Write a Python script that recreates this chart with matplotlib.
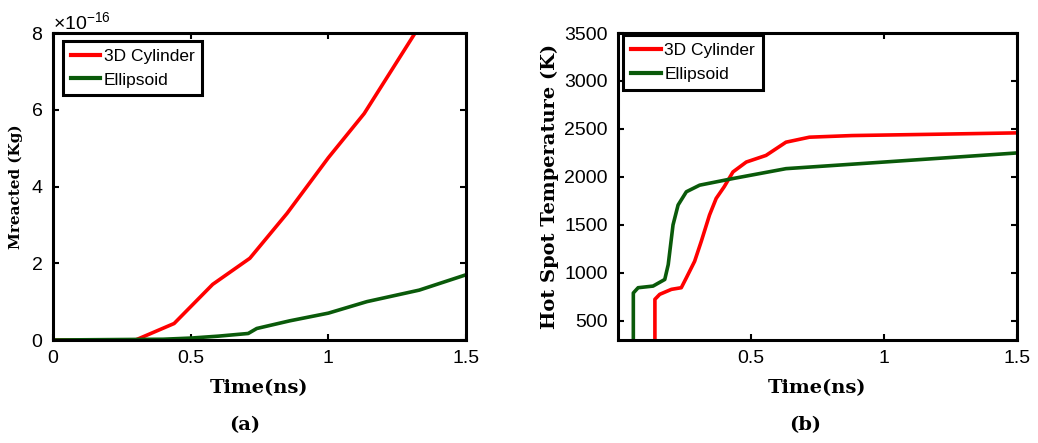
import matplotlib
matplotlib.use("Agg")
import matplotlib.pyplot as plt
from matplotlib.ticker import ScalarFormatter

plt.rcParams['font.family'] = ['Liberation Sans', 'DejaVu Sans']
plt.rcParams['mathtext.fontset'] = 'custom'
plt.rcParams['mathtext.rm'] = 'Liberation Sans'

# (a) Mreacted
cyl_t_a = [0.0, 0.30, 0.44, 0.58, 0.715, 0.85, 1.0, 1.13, 1.315]
cyl_m_a = [0.0, 0.0, 0.43, 1.45, 2.13, 3.3, 4.75, 5.9, 8.0]
ell_t_a = [0.0, 0.4, 0.5, 0.6, 0.709, 0.74, 0.86, 1.0, 1.14, 1.33, 1.5]
ell_m_a = [0.0, 0.02, 0.05, 0.1, 0.17, 0.3, 0.5, 0.7, 1.0, 1.3, 1.7]

# (b) Hot spot temperature
cyl_t_b = [0.14, 0.14, 0.158, 0.202, 0.239, 0.258, 0.289, 0.314, 0.345, 0.37, 0.40, 0.433,
           0.483, 0.557, 0.632, 0.72, 0.88, 1.2, 1.5]
cyl_T_b = [300, 724, 776, 828, 845, 948, 1120, 1328, 1603, 1776, 1897, 2052,
           2155, 2224, 2362, 2414, 2431, 2445, 2459]
ell_t_b = [0.059, 0.059, 0.077, 0.133, 0.177, 0.19, 0.208, 0.227, 0.258, 0.308, 0.433,
           0.632, 1.0, 1.5]
ell_T_b = [300, 790, 845, 862, 931, 1086, 1500, 1707, 1845, 1914, 1983,
           2086, 2155, 2250]

red = '#ff0000'
green = '#0a5a0a'
lw = 2.6

fig = plt.figure(figsize=(10.38, 4.43), dpi=100)
ax1 = fig.add_axes([0.051, 0.2325, 0.398, 0.693])
ax2 = fig.add_axes([0.595, 0.2325, 0.385, 0.693])

label_font = dict(family=['DejaVu Serif'], fontweight='bold', fontsize=14)
small_label_font = dict(family=['DejaVu Serif'], fontweight='bold', fontsize=11)

ax1.plot(cyl_t_a, [v * 1e-16 for v in cyl_m_a], color=red, lw=lw, label='3D Cylinder')
ax1.plot(ell_t_a, [v * 1e-16 for v in ell_m_a], color=green, lw=lw, label='Ellipsoid')
ax1.set_xlim(0, 1.5)
ax1.set_ylim(0, 8e-16)
ax1.set_xticks([0, 0.5, 1, 1.5])
ax1.set_xticklabels(['0', '0.5', '1', '1.5'])
ax1.set_yticks([0, 2e-16, 4e-16, 6e-16, 8e-16])
fmt = ScalarFormatter(useMathText=True)
fmt.set_powerlimits((0, 0))
ax1.yaxis.set_major_formatter(fmt)
ax1.set_xlabel('Time(ns)', labelpad=9, **label_font)
ax1.set_ylabel('Mreacted (Kg)', labelpad=6, **small_label_font)

ax2.plot(cyl_t_b, cyl_T_b, color=red, lw=lw, label='3D Cylinder')
ax2.plot(ell_t_b, ell_T_b, color=green, lw=lw, label='Ellipsoid')
ax2.set_xlim(0, 1.5)
ax2.set_ylim(300, 3500)
ax2.set_xticks([0.5, 1, 1.5])
ax2.set_xticklabels(['0.5', '1', '1.5'])
ax2.set_yticks([500, 1000, 1500, 2000, 2500, 3000, 3500])
ax2.set_xlabel('Time(ns)', labelpad=9, **label_font)
ax2.set_ylabel('Hot Spot Temperature (K)', labelpad=4, **label_font)

anchors = {ax1: (0.003, 1.003), ax2: (-0.007, 1.022)}
for ax in (ax1, ax2):
    for s in ax.spines.values():
        s.set_linewidth(2.2)
    ax.tick_params(direction='in', top=True, right=True, width=1.5, length=4,
                   labelsize=14, pad=7)
    leg = ax.legend(loc='upper left', bbox_to_anchor=anchors[ax], fontsize=12.5,
                    frameon=True, fancybox=False, edgecolor='black',
                    handlelength=1.7, handletextpad=0.2, borderpad=0.45,
                    labelspacing=0.5, borderaxespad=0.5)
    leg.get_frame().set_linewidth(2.2)
    leg.get_frame().set_alpha(1)
    for l in leg.get_lines():
        l.set_linewidth(3)

ax1.yaxis.get_offset_text().set_fontsize(14)

fig.text(0.236, 1 - 425 / 443, '(a)', ha='center', va='center', **label_font)
fig.text(0.776, 1 - 425 / 443, '(b)', ha='center', va='center', **label_font)

fig.savefig('out.png', dpi=100)
